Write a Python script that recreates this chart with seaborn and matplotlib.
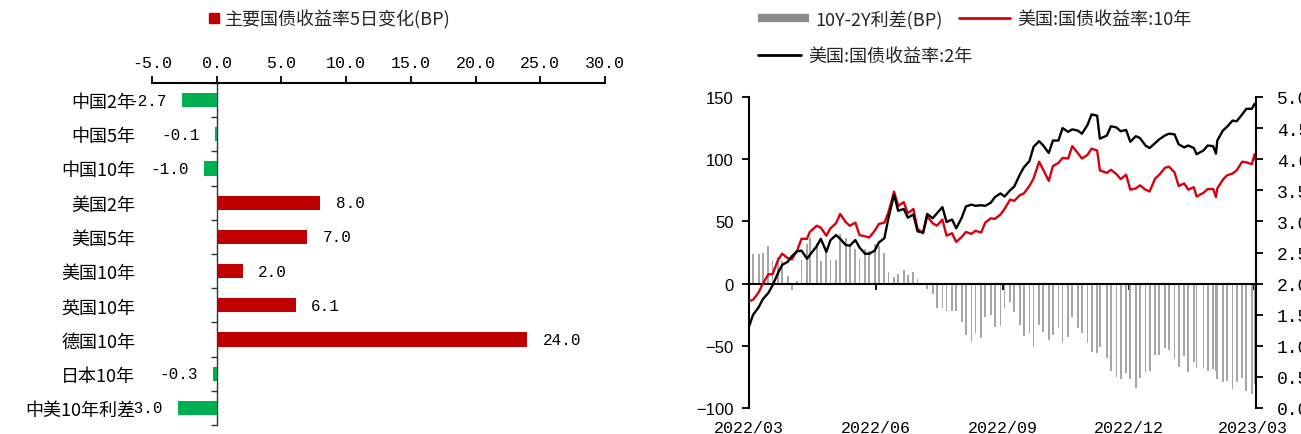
import numpy as np
import pandas as pd
import matplotlib
matplotlib.use("Agg")
import matplotlib.pyplot as plt
import matplotlib.dates as mdates
from matplotlib.lines import Line2D
from matplotlib.ticker import FormatStrFormatter, NullFormatter
import seaborn as sns

# ---------------- data ----------------
bonds = ["中国2年", "中国5年", "中国10年", "美国2年", "美国5年",
         "美国10年", "英国10年", "德国10年", "日本10年", "中美10年利差"]
chg_5d_bp = [-2.7, -0.1, -1.0, 8.0, 7.0, 2.0, 6.1, 24.0, -0.3, -3.0]

obs_dates = [
    "2022-03-01", "2022-03-04", "2022-03-08", "2022-03-11", "2022-03-15", "2022-03-18",
    "2022-03-22", "2022-03-25", "2022-03-29", "2022-04-01", "2022-04-05", "2022-04-08",
    "2022-04-12", "2022-04-14", "2022-04-19", "2022-04-22", "2022-04-26", "2022-04-29",
    "2022-05-03", "2022-05-06", "2022-05-10", "2022-05-13", "2022-05-17", "2022-05-20",
    "2022-05-24", "2022-05-27", "2022-05-31", "2022-06-03", "2022-06-07", "2022-06-10",
    "2022-06-14", "2022-06-17", "2022-06-21", "2022-06-24", "2022-06-28", "2022-07-01",
    "2022-07-05", "2022-07-08", "2022-07-12", "2022-07-15", "2022-07-19", "2022-07-22",
    "2022-07-26", "2022-07-29", "2022-08-02", "2022-08-05", "2022-08-09", "2022-08-12",
    "2022-08-16", "2022-08-19", "2022-08-23", "2022-08-26", "2022-08-30", "2022-09-02",
    "2022-09-06", "2022-09-09", "2022-09-13", "2022-09-16", "2022-09-20", "2022-09-23",
    "2022-09-27", "2022-09-30", "2022-10-04", "2022-10-07", "2022-10-11", "2022-10-14",
    "2022-10-18", "2022-10-21", "2022-10-25", "2022-10-28", "2022-11-01", "2022-11-04",
    "2022-11-08", "2022-11-10", "2022-11-15", "2022-11-18", "2022-11-22", "2022-11-25",
    "2022-11-29", "2022-12-02", "2022-12-06", "2022-12-09", "2022-12-13", "2022-12-16",
    "2022-12-20", "2022-12-23", "2022-12-27", "2022-12-30", "2023-01-03", "2023-01-06",
    "2023-01-10", "2023-01-13", "2023-01-17", "2023-01-19", "2023-01-24", "2023-01-27",
    "2023-01-31", "2023-02-02", "2023-02-03", "2023-02-07", "2023-02-10", "2023-02-14",
    "2023-02-17", "2023-02-21", "2023-02-24", "2023-02-28", "2023-03-02", "2023-03-03",
]
us10y = [
    1.72, 1.74, 1.86, 2.00, 2.15, 2.15, 2.38, 2.48, 2.41, 2.39, 2.54, 2.72,
    2.72, 2.83, 2.93, 2.90, 2.77, 2.89, 2.97, 3.12, 2.99, 2.93, 2.98, 2.78,
    2.76, 2.74, 2.85, 2.96, 2.98, 3.15, 3.48, 3.25, 3.31, 3.13, 3.20, 2.88,
    2.81, 3.08, 2.97, 2.93, 3.03, 2.77, 2.81, 2.67, 2.75, 2.83, 2.80, 2.85,
    2.82, 2.98, 3.05, 3.04, 3.11, 3.20, 3.35, 3.33, 3.42, 3.45, 3.57, 3.69,
    3.96, 3.83, 3.65, 3.89, 3.94, 4.02, 4.01, 4.21, 4.10, 4.01, 4.07, 4.17,
    4.14, 3.82, 3.78, 3.83, 3.76, 3.68, 3.75, 3.51, 3.53, 3.58, 3.51, 3.48,
    3.69, 3.75, 3.86, 3.88, 3.79, 3.57, 3.61, 3.51, 3.55, 3.40, 3.46, 3.52,
    3.52, 3.39, 3.53, 3.67, 3.74, 3.77, 3.82, 3.96, 3.95, 3.92, 4.08, 3.97,
]
us2y = [
    1.31, 1.50, 1.62, 1.75, 1.85, 1.97, 2.17, 2.30, 2.35, 2.44, 2.52, 2.53,
    2.40, 2.46, 2.60, 2.72, 2.51, 2.70, 2.78, 2.72, 2.62, 2.61, 2.70, 2.58,
    2.48, 2.48, 2.53, 2.66, 2.73, 3.06, 3.43, 3.17, 3.20, 3.06, 3.11, 2.84,
    2.82, 3.12, 3.05, 3.13, 3.23, 2.99, 3.03, 2.89, 3.06, 3.24, 3.27, 3.25,
    3.26, 3.25, 3.30, 3.39, 3.45, 3.40, 3.50, 3.56, 3.75, 3.87, 3.97, 4.20,
    4.29, 4.22, 4.10, 4.30, 4.30, 4.50, 4.44, 4.48, 4.46, 4.41, 4.55, 4.72,
    4.70, 4.33, 4.38, 4.53, 4.51, 4.45, 4.47, 4.28, 4.37, 4.34, 4.22, 4.18,
    4.26, 4.32, 4.38, 4.41, 4.40, 4.24, 4.19, 4.22, 4.18, 4.08, 4.14, 4.22,
    4.21, 4.09, 4.30, 4.46, 4.52, 4.62, 4.61, 4.72, 4.81, 4.81, 4.89, 4.86,
]

# ---------------- style ----------------
sns.set_theme(style="ticks")
plt.rcParams["font.family"] = ["Noto Sans CJK SC", "DejaVu Sans"]
plt.rcParams["axes.unicode_minus"] = True

RED_BAR = "#C00000"
GREEN_BAR = "#00B050"
RED_LINE = "#D7000F"
GRAY_BAR = "#a6a6a6"
MONO = "Liberation Mono"

W, H = 1301, 435
fig = plt.figure(figsize=(W / 100, H / 100), dpi=100)

# ======== left panel: 5-day change of major government bond yields ========
axL = fig.add_axes([152 / W, (H - 426) / H, (605 - 152) / W, (426 - 84) / H])
df_chg = pd.DataFrame({"bond": bonds, "chg": chg_5d_bp})
bar_colors = [RED_BAR if v > 0 else GREEN_BAR for v in chg_5d_bp]
sns.barplot(data=df_chg, x="chg", y="bond", hue="bond", palette=bar_colors,
            legend=False, orient="h", width=0.41, saturation=1,
            linewidth=0, ax=axL)
axL.set_xlim(-5, 30)
axL.set_ylim(len(bonds) - 0.5, -0.5)
axL.set_xticks(np.arange(-5, 31, 5))
axL.xaxis.set_major_formatter(FormatStrFormatter("%.1f"))
axL.xaxis.tick_top()
axL.set_xlabel("")
axL.set_ylabel("")
for s in ("left", "right", "bottom"):
    axL.spines[s].set_visible(False)
axL.spines["top"].set_linewidth(1.5)
axL.spines["top"].set_color("black")
axL.tick_params(axis="x", top=True, bottom=False, direction="out", length=5,
                width=1.3, color="black", pad=4, labelsize=12, labelcolor="black")
for t in axL.get_xticklabels():
    t.set_fontfamily(MONO)
axL.tick_params(axis="y", left=True, length=0, pad=12, labelsize=13, labelcolor="black")

# zero line with category boundary ticks
x0, x1 = axL.get_xlim()
zero_axis = axL.secondary_yaxis((0 - x0) / (x1 - x0))
zero_axis.set_yticks(np.arange(-0.5, len(bonds), 1.0))
zero_axis.set_yticklabels([])
zero_axis.tick_params(direction="out", length=4, width=1.0, color="#333333")
for s in zero_axis.spines.values():
    s.set_color("#333333")
    s.set_linewidth(1.0)

for cont in axL.containers:
    axL.bar_label(cont, fmt="%.1f", padding=11, fontsize=11.5,
                  fontfamily=MONO, color="black")

fig.legend(handles=[Line2D([], [], marker="s", color=RED_BAR, ls="none", markersize=7)],
           labels=["主要国债收益率5日变化(BP)"], loc="center",
           bbox_to_anchor=(0.253, 1 - 20 / H), frameon=False, fontsize=13,
           handletextpad=0.2, handlelength=0.8, borderpad=0, borderaxespad=0)

# ======== right panel: US treasury yields and 10Y-2Y spread ========
axR = fig.add_axes([749 / W, (H - 409) / H, (1256 - 749) / W, (409 - 98) / H])
dates = pd.to_datetime(obs_dates)
y10 = np.array(us10y)
y2 = np.array(us2y)
spread_bp = (y10 - y2) * 100

axR.bar(dates, spread_bp, width=1.3, color=GRAY_BAR, linewidth=0)
axR.set_ylim(-100, 150)
axR.set_yticks(np.arange(-100, 151, 50))

ax2 = axR.twinx()
sns.lineplot(x=dates, y=y10, color=RED_LINE, linewidth=1.7, ax=ax2)
sns.lineplot(x=dates, y=y2, color="black", linewidth=1.7, ax=ax2)
ax2.set_ylim(0, 5)
ax2.set_yticks(np.arange(0, 5.01, 0.5))
ax2.yaxis.set_major_formatter(FormatStrFormatter("%.1f"))
ax2.set_xlabel("")
ax2.set_ylabel("")

axR.set_xlim(pd.Timestamp("2022-03-01"), pd.Timestamp("2023-03-03"))
axR.xaxis.set_major_locator(mdates.MonthLocator(bymonth=[3, 6, 9, 12]))
axR.xaxis.set_major_formatter(NullFormatter())

# spines
axR.spines["top"].set_visible(False)
axR.spines["right"].set_visible(False)
axR.spines["bottom"].set_position(("data", 0))
for s in ("left", "bottom"):
    axR.spines[s].set_linewidth(1.5)
    axR.spines[s].set_color("black")
for s in ("left", "top", "bottom"):
    ax2.spines[s].set_visible(False)
ax2.spines["right"].set_linewidth(1.5)
ax2.spines["right"].set_color("black")

axR.tick_params(axis="x", bottom=True, direction="out", length=4, width=1.3, color="black")
axR.tick_params(axis="y", left=True, direction="out", length=5, width=1.3,
                color="black", pad=6, labelsize=12, labelcolor="black")
for t in axR.get_yticklabels():
    t.set_fontfamily("Liberation Sans")
ax2.tick_params(axis="y", right=True, direction="out", length=5, width=1.3,
                color="black", pad=10, labelsize=13, labelcolor="black")
for t in ax2.get_yticklabels():
    t.set_fontfamily(MONO)

# date labels sit along the bottom of the panel
date_axis = axR.secondary_xaxis("bottom")
date_axis.xaxis.set_major_locator(mdates.MonthLocator(bymonth=[3, 6, 9, 12]))
date_axis.xaxis.set_major_formatter(mdates.DateFormatter("%Y/%m"))
date_axis.tick_params(length=0, pad=9, labelsize=12, labelcolor="black")
date_axis.spines["bottom"].set_visible(False)
for t in date_axis.get_xticklabels():
    t.set_fontfamily(MONO)

# legends
fig.legend(handles=[Line2D([], [], color="#8c8c8c", lw=6, solid_capstyle="butt"),
                    Line2D([], [], color=RED_LINE, lw=2)],
           labels=["10Y-2Y利差(BP)", "美国:国债收益率:10年"], ncol=2,
           loc="center left", bbox_to_anchor=(758 / W, 1 - 20 / H), frameon=False,
           fontsize=13, handlelength=2.8, handletextpad=0.4, columnspacing=0.9,
           borderpad=0, borderaxespad=0)
fig.legend(handles=[Line2D([], [], color="black", lw=2)],
           labels=["美国:国债收益率:2年"],
           loc="center left", bbox_to_anchor=(758 / W, 1 - 57 / H), frameon=False,
           fontsize=13, handlelength=2.4, handletextpad=0.4,
           borderpad=0, borderaxespad=0)

fig.savefig("out.png", dpi=100)
